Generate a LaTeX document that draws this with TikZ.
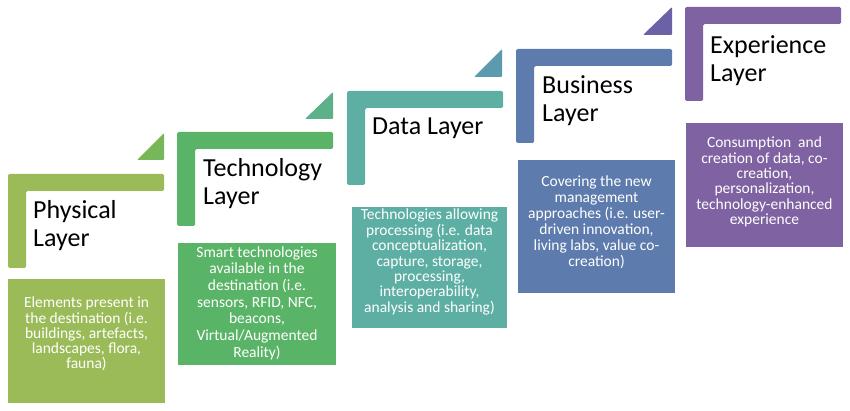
\documentclass[tikz,border=0pt]{standalone}
\usepackage{fontspec}
\setmainfont{Carlito}
\definecolor{cphys}{HTML}{9BBB59}
\definecolor{ctech}{HTML}{5AB467}
\definecolor{cdata}{HTML}{5DAFA3}
\definecolor{cbus}{HTML}{5E7BAD}
\definecolor{cexp}{HTML}{7F62A1}
\definecolor{tri1}{HTML}{78B65A}
\definecolor{tri2}{HTML}{5CB08A}
\definecolor{tri3}{HTML}{5C9AAD}
\definecolor{tri4}{HTML}{6A61A6}
\newcommand{\Lshape}[3]{%
  \fill[lshape,#3] (#1,#2) -- ++(156,0) -- ++(0,17) -- ++(-138,0) -- ++(0,77) -- ++(-18,0) -- cycle;}
\begin{document}
\begin{tikzpicture}[x=1pt,y=-1pt,
  lshape/.style={rounded corners=1.5pt},
  tri/.style={rounded corners=1pt},
  infotext/.style={text=white,align=center,inner sep=0pt,font=\fontsize{15.5}{15.5}\selectfont},
  heading/.style={anchor=base west,align=left,inner sep=0pt,font=\fontsize{26}{28}\selectfont}]
\useasboundingbox (0,0) rectangle (850,411);
% L shapes
\Lshape{8}{174}{cphys}
\Lshape{177}{132}{ctech}
\Lshape{347}{91}{cdata}
\Lshape{516}{49}{cbus}
\Lshape{685}{7}{cexp}
% triangles
\fill[tri,tri1] (137,160) -- (164,160) -- (164,133) -- cycle;
\fill[tri,tri2] (305,119) -- (333,119) -- (333,92) -- cycle;
\fill[tri,tri3] (474,77) -- (502,77) -- (502,49) -- cycle;
\fill[tri,tri4] (643,35) -- (672,35) -- (672,7) -- cycle;
% headings (base anchor = baseline of the last line)
\node[heading] (hphys) at (33,247) {Physical\\Layer};
\node[heading] (htech) at (203,205) {Technology\\Layer};
\node[heading] (hdata) at (372,135) {Data Layer};
\node[heading] (hbus) at (542,122) {Business\\Layer};
\node[heading] (hexp) at (710,82) {Experience\\Layer};
% boxes
\fill[cphys] (8,279) rectangle (165,403);
\fill[ctech] (178,243) rectangle (336,365);
\fill[cdata] (352,207) rectangle (507,328);
\fill[cbus] (518,160) rectangle (675,293);
\fill[cexp] (686,123) rectangle (843,247);
\node[infotext,font=\fontsize{15.5}{15.3}\selectfont] (tphys) at (86.5,334) {Elements present in\\the destination (i.e.\\buildings, artefacts,\\landscapes, flora,\\fauna)};
\node[infotext,font=\fontsize{15.5}{16.7}\selectfont] (ttech) at (257,303) {Smart technologies\\available in the\\destination (i.e.\\sensors, RFID, NFC,\\beacons,\\Virtual/Augmented\\Reality)};
\node[infotext,font=\fontsize{15.5}{15.4}\selectfont] (tdata) at (429.5,262) {Technologies allowing\\processing (i.e. data\\conceptualization,\\capture, storage,\\processing,\\interoperability,\\analysis and sharing)};
\node[infotext,font=\fontsize{15.5}{16}\selectfont] (tbus) at (596.5,222) {Covering the new\\management\\approaches (i.e. user-\\driven innovation,\\living labs, value co-\\creation)};
\node[infotext,font=\fontsize{15.5}{15.3}\selectfont] (texp) at (764.5,182) {Consumption~ and\\creation of data, co-\\creation,\\personalization,\\technology-enhanced\\experience};
\end{tikzpicture}
\end{document}
